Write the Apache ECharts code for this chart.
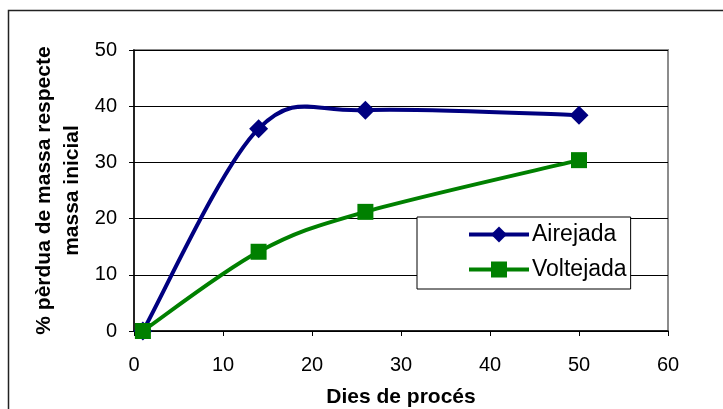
<!DOCTYPE html>
<html>
<head>
<meta charset="utf-8">
<script src="https://cdn.jsdelivr.net/npm/echarts@6/dist/echarts.min.js"></script>
<style>html,body{margin:0;padding:0;background:#fff;}#c{width:723px;height:409px;}</style>
</head>
<body>
<div id="c"></div>
<script>
const days = [1, 14, 26, 50];
const airejada = [0, 36, 39.3, 38.4];
const voltejada = [0, 14.1, 21.2, 30.4];
const xTicks = [0, 10, 20, 30, 40, 50, 60];
const yTicks = [0, 10, 20, 30, 40, 50];
const seriesNames = ['Airejada', 'Voltejada'];
const xTitle = 'Dies de procés';
const yTitle = '% pèrdua de massa respecte\nmassa inicial';

const font = 'Arial, "Liberation Sans", sans-serif';
const colors = ['#000080', '#008000'];

// Smooth curve (Catmull-Rom, as in spreadsheet "smoothed line") through the data points,
// positioned through the chart's own coordinate system.
function smoothPath(xs, ys, color) {
  return function (params, api) {
    if (params.dataIndex !== 0) return null;
    const p = xs.map((x, i) => api.coord([x, ys[i]]));
    const n = p.length;
    let d = 'M' + p[0][0] + ' ' + p[0][1];
    for (let i = 0; i < n - 1; i++) {
      const p0 = p[Math.max(i - 1, 0)], p1 = p[i], p2 = p[i + 1], p3 = p[Math.min(i + 2, n - 1)];
      const c1 = [p1[0] + (p2[0] - p0[0]) / 6, p1[1] + (p2[1] - p0[1]) / 6];
      const c2 = [p2[0] - (p3[0] - p1[0]) / 6, p2[1] - (p3[1] - p1[1]) / 6];
      d += ' C' + c1[0] + ' ' + c1[1] + ' ' + c2[0] + ' ' + c2[1] + ' ' + p2[0] + ' ' + p2[1];
    }
    return {type: 'path', shape: {pathData: d}, style: {fill: 'none', stroke: color, lineWidth: 4, lineCap: 'round', lineJoin: 'round'}, silent: true};
  };
}

const chart = echarts.init(document.getElementById('c'), null, {renderer: 'canvas'});
chart.setOption({
  animation: false,
  backgroundColor: '#fff',
  grid: {left: 134, right: 55, top: 50, bottom: 78, containLabel: false, outerBoundsMode: 'none',
         show: true, borderColor: '#8c8c8c', borderWidth: 2, backgroundColor: 'transparent'},
  graphic: [{type: 'rect', shape: {x: 8.5, y: 10.5, width: 720, height: 420}, style: {fill: 'none', stroke: '#222', lineWidth: 1.5}, silent: true, z: 0}],
  xAxis: {
    type: 'value', min: xTicks[0], max: xTicks[xTicks.length - 1], interval: 10,
    name: xTitle, nameLocation: 'middle', nameGap: 56, nameMoveOverlap: false,
    nameTextStyle: {fontFamily: font, fontWeight: 'bold', fontSize: 21, color: '#000'},
    axisLine: {show: true, lineStyle: {color: '#000', width: 1.5}},
    axisTick: {show: true, inside: false, length: 5, lineStyle: {color: '#000', width: 1}},
    axisLabel: {fontFamily: font, fontSize: 20, color: '#000', margin: 24},
    splitLine: {show: false}
  },
  yAxis: {
    type: 'value', min: yTicks[0], max: yTicks[yTicks.length - 1], interval: 10,
    name: yTitle, nameLocation: 'middle', nameGap: 48, nameRotate: 90, nameMoveOverlap: false,
    nameTextStyle: {fontFamily: font, fontWeight: 'bold', fontSize: 21, color: '#000', lineHeight: 28, align: 'center'},
    axisLine: {show: true, lineStyle: {color: '#000', width: 1.5}},
    axisTick: {show: true, inside: false, length: 5, lineStyle: {color: '#000', width: 1}},
    axisLabel: {fontFamily: font, fontSize: 20, color: '#000', margin: 17},
    splitLine: {show: true, lineStyle: {color: '#000', width: 1}}
  },
  legend: {
    orient: 'vertical', left: 417, top: 217,
    data: seriesNames.map((n, i) => ({name: n, lineStyle: {opacity: 1, color: colors[i], width: 4}})),
    backgroundColor: '#fff', borderColor: '#000', borderWidth: 1, borderRadius: 0,
    padding: [6, 4, 8, 50], itemGap: 12, itemWidth: 60, itemHeight: 20,
    textStyle: {fontFamily: font, fontSize: 23, color: '#000', lineHeight: 20, padding: [0, 0, 0, -2]},
    z: 10
  },
  series: [
    {type: 'custom', data: [0], renderItem: smoothPath(days, airejada, colors[0]), z: 2, silent: true},
    {type: 'custom', data: [0], renderItem: smoothPath(days, voltejada, colors[1]), z: 2, silent: true},
    {name: seriesNames[0], type: 'line', data: days.map((d, i) => [d, airejada[i]]),
     symbol: 'diamond', symbolSize: 19, lineStyle: {color: colors[0], width: 4, opacity: 0}, itemStyle: {color: colors[0]}, z: 3},
    {name: seriesNames[1], type: 'line', data: days.map((d, i) => [d, voltejada[i]]),
     symbol: 'rect', symbolSize: 16, lineStyle: {color: colors[1], width: 4, opacity: 0}, itemStyle: {color: colors[1]}, z: 4}
  ]
});
</script>
</body>
</html>
